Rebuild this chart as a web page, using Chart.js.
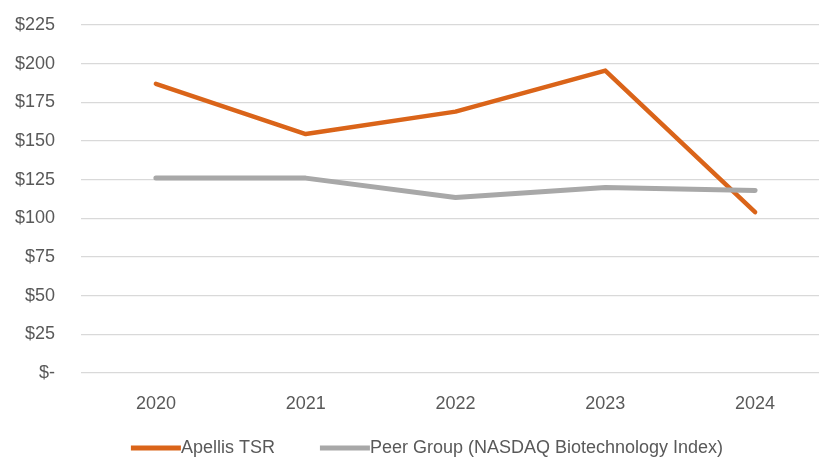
<!DOCTYPE html>
<html>
<head>
<meta charset="utf-8">
<script src="https://cdn.jsdelivr.net/npm/chart.js@4/dist/chart.umd.min.js"></script>
<style>
  html, body { margin: 0; padding: 0; background: #fff; overflow: hidden; }
  #wrap { width: 835px; height: 457px; }
</style>
</head>
<body>
<div id="wrap"><canvas id="chart"></canvas></div>
<script>
const years = ["2020", "2021", "2022", "2023", "2024"];
const apellisTSR = [187, 154.5, 169, 195.5, 104];
const peerGroup = [126, 126, 113.5, 120, 118];
const yTicks = [0, 25, 50, 75, 100, 125, 150, 175, 200, 225];

const FONT = "'Liberation Sans', Arial, sans-serif";
const TEXT = "#595959";

// simple legend: line sample butting against the label, like the Excel original
const lineLegend = {
  id: "lineLegend",
  afterDraw(chart) {
    const ctx = chart.ctx;
    const sets = chart.data.datasets;
    const sample = 50, gap = 45;
    ctx.save();
    ctx.font = "18px " + FONT;
    ctx.textBaseline = "middle";
    let total = 0;
    sets.forEach((d, i) => {
      total += sample + ctx.measureText(d.label).width + (i ? gap : 0);
    });
    let x = 427 - total / 2;
    const y = 448;
    sets.forEach(d => {
      ctx.strokeStyle = d.borderColor;
      ctx.lineWidth = 5;
      ctx.beginPath();
      ctx.moveTo(x, y);
      ctx.lineTo(x + sample, y);
      ctx.stroke();
      x += sample;
      ctx.fillStyle = TEXT;
      ctx.fillText(d.label, x, y);
      x += ctx.measureText(d.label).width + gap;
    });
    ctx.restore();
  }
};

new Chart(document.getElementById("chart"), {
  type: "line",
  data: {
    labels: years,
    datasets: [
      {
        label: "Apellis TSR",
        data: apellisTSR,
        borderColor: "#DA6419",
        borderWidth: 4.5,
        order: 1,
      },
      {
        label: "Peer Group (NASDAQ Biotechnology Index)",
        data: peerGroup,
        borderColor: "#A8A8A8",
        borderWidth: 5,
        order: 0,
      },
    ],
  },
  options: {
    responsive: true,
    maintainAspectRatio: false,
    animation: false,
    layout: { padding: { top: 25, left: 13, right: 5, bottom: 34 } },
    elements: {
      point: { radius: 0, hoverRadius: 0 },
      line: { tension: 0, borderJoinStyle: "round", borderCapStyle: "round" },
    },
    plugins: {
      legend: { display: false },
      tooltip: { enabled: false },
    },
    scales: {
      x: {
        offset: true,
        grid: { display: false },
        border: { display: false },
        ticks: { color: TEXT, font: { family: FONT, size: 18 }, padding: 12 },
        afterFit(s) { s.height = 50; s.paddingLeft = 0; s.paddingRight = 0; },
      },
      y: {
        min: 0,
        max: 225,
        afterBuildTicks(s) { s.ticks = yTicks.map(v => ({ value: v })); },
        grid: { color: "#D9D9D9", lineWidth: 1.3, drawTicks: false },
        border: { display: false },
        ticks: {
          color: TEXT,
          font: { family: FONT, size: 18 },
          padding: 26,
          callback: v => (v === 0 ? "$-" : "$" + v),
        },
        afterFit(s) { s.width = 68; s.paddingTop = 0; s.paddingBottom = 0; },
      },
    },
  },
  plugins: [lineLegend],
});
</script>
</body>
</html>
